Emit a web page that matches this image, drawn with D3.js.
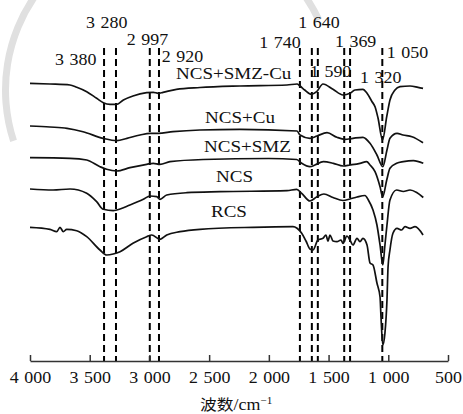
<!DOCTYPE html>
<html>
<head>
<meta charset="utf-8">
<script src="https://cdn.jsdelivr.net/npm/d3@7"></script>
<style>
  body { margin: 0; background: #fff; }
  text { font-family: "Liberation Serif", "Times New Roman", serif; fill: #111; word-spacing: 1px; }
</style>
</head>
<body>
<div id="chart"></div>
<script>
// FTIR spectra, values (arbitrary transmittance units, offset stacked)
var seriesNames = ["NCS+SMZ-Cu", "NCS+Cu", "NCS+SMZ", "NCS", "RCS"];

var ncsSmzCu = [[4000, 277.7], [3833, 277], [3665, 276], [3609, 273.7], [3525, 269.3], [3442, 262.7], [3386, 258.3],
  [3330, 256.7], [3274, 256.7], [3218, 261], [3138, 265], [3023, 268.3], [2968, 268.7], [2926, 267.7], [2886, 268.7],
  [2774, 271.7], [2577, 273.5], [2242, 275], [1848, 276], [1764, 277], [1739, 275], [1700, 271], [1642, 266.7],
  [1600, 269.3], [1547, 277], [1463, 271.7], [1379, 266], [1321, 267.7], [1279, 271], [1212, 271.7], [1178, 267.7],
  [1136, 259.3], [1111, 254.3], [1086, 243], [1048, 221], [1013, 244.3], [986, 261], [944, 271], [902, 274.3],
  [818, 275], [751, 273.7], [709, 272.7]];

var ncsCu = [[4000, 235], [3833, 234], [3690, 232.7], [3556, 229.3], [3389, 222.7], [3272, 220.3], [3188, 222.7],
  [3079, 226], [2995, 227.7], [2928, 227.7], [2803, 229.3], [2577, 231], [2242, 231.7], [1764, 230], [1739, 226],
  [1656, 222.7], [1597, 225], [1513, 228.3], [1430, 223.7], [1363, 221.7], [1296, 222.7], [1212, 223.7],
  [1153, 217.7], [1095, 206], [1046, 194.3], [1011, 211], [986, 222.7], [927, 227.7], [877, 226], [802, 224.3],
  [709, 218.3]];

var ncsSmz = [[4000, 203.3], [3665, 202.7], [3525, 201], [3414, 194.3], [3358, 191.7], [3274, 190], [3163, 193.3],
  [3023, 196.7], [2968, 197.7], [2912, 196.7], [2828, 199.3], [2551, 201.5], [2000, 202.5], [1767, 201.5],
  [1725, 197.7], [1656, 194.3], [1614, 196], [1544, 199.3], [1460, 197.7], [1377, 195], [1321, 196], [1237, 197.7],
  [1181, 199.3], [1153, 196], [1111, 189.3], [1069, 174.3], [1047, 164.3], [1013, 181], [986, 192.7], [930, 197.7],
  [874, 199.3], [790, 200.3], [707, 197.7]];

var ncs = [[4000, 172], [3807, 171], [3665, 172], [3525, 167.7], [3442, 159.3], [3386, 151.7], [3303, 150.3],
  [3274, 151], [3163, 156], [3051, 161.7], [2995, 165], [2939, 164.3], [2912, 161.7], [2855, 166], [2688, 168.3],
  [2409, 169.3], [1848, 170.3], [1767, 171.7], [1725, 167.7], [1656, 160], [1600, 164], [1539, 167], [1463, 163.5],
  [1379, 160.5], [1321, 162], [1262, 164], [1195, 165.5], [1167, 161], [1128, 151], [1095, 136], [1069, 116],
  [1046, 96], [1028, 116], [1011, 136], [986, 161], [930, 171], [874, 169.5], [818, 171], [762, 168.5], [707, 163.5]];

var rcs = [[4000, 133.7], [3833, 131.7], [3776, 129.3], [3749, 133.7], [3721, 129.3], [3693, 131.7], [3609, 130.3],
  [3525, 124.3], [3414, 111], [3358, 106], [3303, 107], [3246, 109.3], [3138, 117.7], [3023, 124.3], [2981, 126],
  [2912, 121.7], [2855, 126], [2744, 129.3], [2577, 131.7], [2133, 133.7], [1798, 134.3], [1764, 132.7],
  [1725, 127.7], [1689, 120], [1656, 112], [1631, 111], [1589, 121], [1547, 122.7], [1522, 126], [1505, 120],
  [1488, 126], [1463, 120], [1430, 119.3], [1396, 121], [1379, 117.7], [1346, 125], [1321, 121], [1296, 116],
  [1262, 122.7], [1237, 119.3], [1212, 122.7], [1178, 116], [1153, 98], [1128, 96], [1095, 78], [1069, 64],
  [1061, 44], [1046, 16], [1028, 28], [1011, 61], [1002, 94], [986, 111], [961, 127.7], [927, 132.7], [888, 131],
  [860, 134.3], [818, 132.7], [776, 134.3], [709, 126]];

var allSeries = [ncsSmzCu, ncsCu, ncsSmz, ncs, rcs];

// marked bands (cm-1)
var peaks = [3380, 3280, 2997, 2920, 1740, 1640, 1590, 1369, 1320, 1050];
var xTicks = [4000, 3500, 3000, 2500, 2000, 1500, 1000, 500];

// layout only: label offset from its dashed line, label baseline
var peakLabelPos = [[-49, 65], [-30, 28.3], [-23, 45], [2.7, 62], [-40.6, 48.3], [-13.6, 28.3], [-7.9, 76.7],
  [-9.3, 46.7], [9.9, 83.3], [4.4, 58.3]];
var seriesLabelPos = [[176, 78.5], [205, 123], [204, 151.5], [216, 181.5], [211, 216.5]];

var width = 463, height = 414;
var stretch = 1.12;

var svg = d3.select("#chart").append("svg")
  .attr("width", width)
  .attr("height", height);

var x = d3.scaleLinear().domain([4000, 500]).range([30, 448]);
var y = d3.scaleLinear().domain([0, 300]).range([361, 61]);

var fmt = d3.formatLocale({decimal: ".", thousands: " ", grouping: [3], currency: ["", ""]}).format(",");

// faint watermark arc (same circle shows at top left and top right)
var wm = svg.append("g").attr("transform", "translate(170,90)");
wm.append("path")
  .attr("d", d3.arc()({innerRadius: 161, outerRadius: 168, startAngle: -Math.PI * 0.6, endAngle: -Math.PI * 0.3}))
  .style("fill", "#e0e0e0");
wm.append("path")
  .attr("d", d3.arc()({innerRadius: 161, outerRadius: 168, startAngle: Math.PI * 0.3, endAngle: Math.PI * 0.36}))
  .style("fill", "#e0e0e0");

// dashed band lines
svg.append("g").selectAll("line")
  .data(peaks)
  .enter().append("line")
  .attr("x1", function(d) { return x(d); })
  .attr("x2", function(d) { return x(d); })
  .attr("y1", 48)
  .attr("y2", y(0))
  .style("stroke", "#000")
  .style("stroke-width", 2)
  .style("stroke-dasharray", "7,4");

// band labels
svg.append("g").selectAll("text")
  .data(peaks)
  .enter().append("text")
  .attr("transform", function(d, i) {
    return "translate(" + (x(d) + peakLabelPos[i][0]) + "," + peakLabelPos[i][1] + ") scale(" + stretch + ",1)";
  })
  .style("font-size", "16px")
  .text(function(d) { return fmt(d); });

// spectra
var line = d3.line()
  .x(function(d) { return x(d[0]); })
  .y(function(d) { return y(d[1]); })
  .curve(d3.curveMonotoneX);

svg.append("g").selectAll("path")
  .data(allSeries)
  .enter().append("path")
  .attr("d", line)
  .style("fill", "none")
  .style("stroke", "#111")
  .style("stroke-width", 1.7)
  .style("stroke-linejoin", "round");

// series names
svg.append("g").selectAll("text")
  .data(seriesNames)
  .enter().append("text")
  .attr("transform", function(d, i) {
    return "translate(" + seriesLabelPos[i][0] + "," + seriesLabelPos[i][1] + ") scale(" + stretch + ",1)";
  })
  .style("font-size", "17px")
  .text(function(d) { return d; });

// x axis
var xAxis = svg.append("g")
  .attr("transform", "translate(0," + y(0) + ")")
  .call(d3.axisBottom(x).tickValues(xTicks).tickSizeInner(-6).tickSizeOuter(0).tickFormat(fmt));

xAxis.select(".domain").style("stroke", "#333").style("stroke-width", 1.5);
xAxis.selectAll(".tick line").style("stroke", "#333").style("stroke-width", 1.5);
xAxis.selectAll(".tick text")
  .attr("y", 22)
  .attr("dy", null)
  .attr("transform", "scale(" + stretch + ",1)")
  .style("font-family", "'Liberation Serif', 'Times New Roman', serif")
  .style("font-size", "16px")
  .style("fill", "#111");

// axis title
var title = svg.append("text")
  .attr("transform", "translate(200,410) scale(" + stretch + ",1)")
  .style("font-size", "16px");
title.append("tspan")
  .style("font-family", "'Noto Sans CJK SC', sans-serif")
  .style("font-size", "15px")
  .text("波数");
title.append("tspan").text("/cm");
title.append("tspan")
  .attr("dy", -6)
  .style("font-size", "10px")
  .text("−1");
</script>
</body>
</html>
